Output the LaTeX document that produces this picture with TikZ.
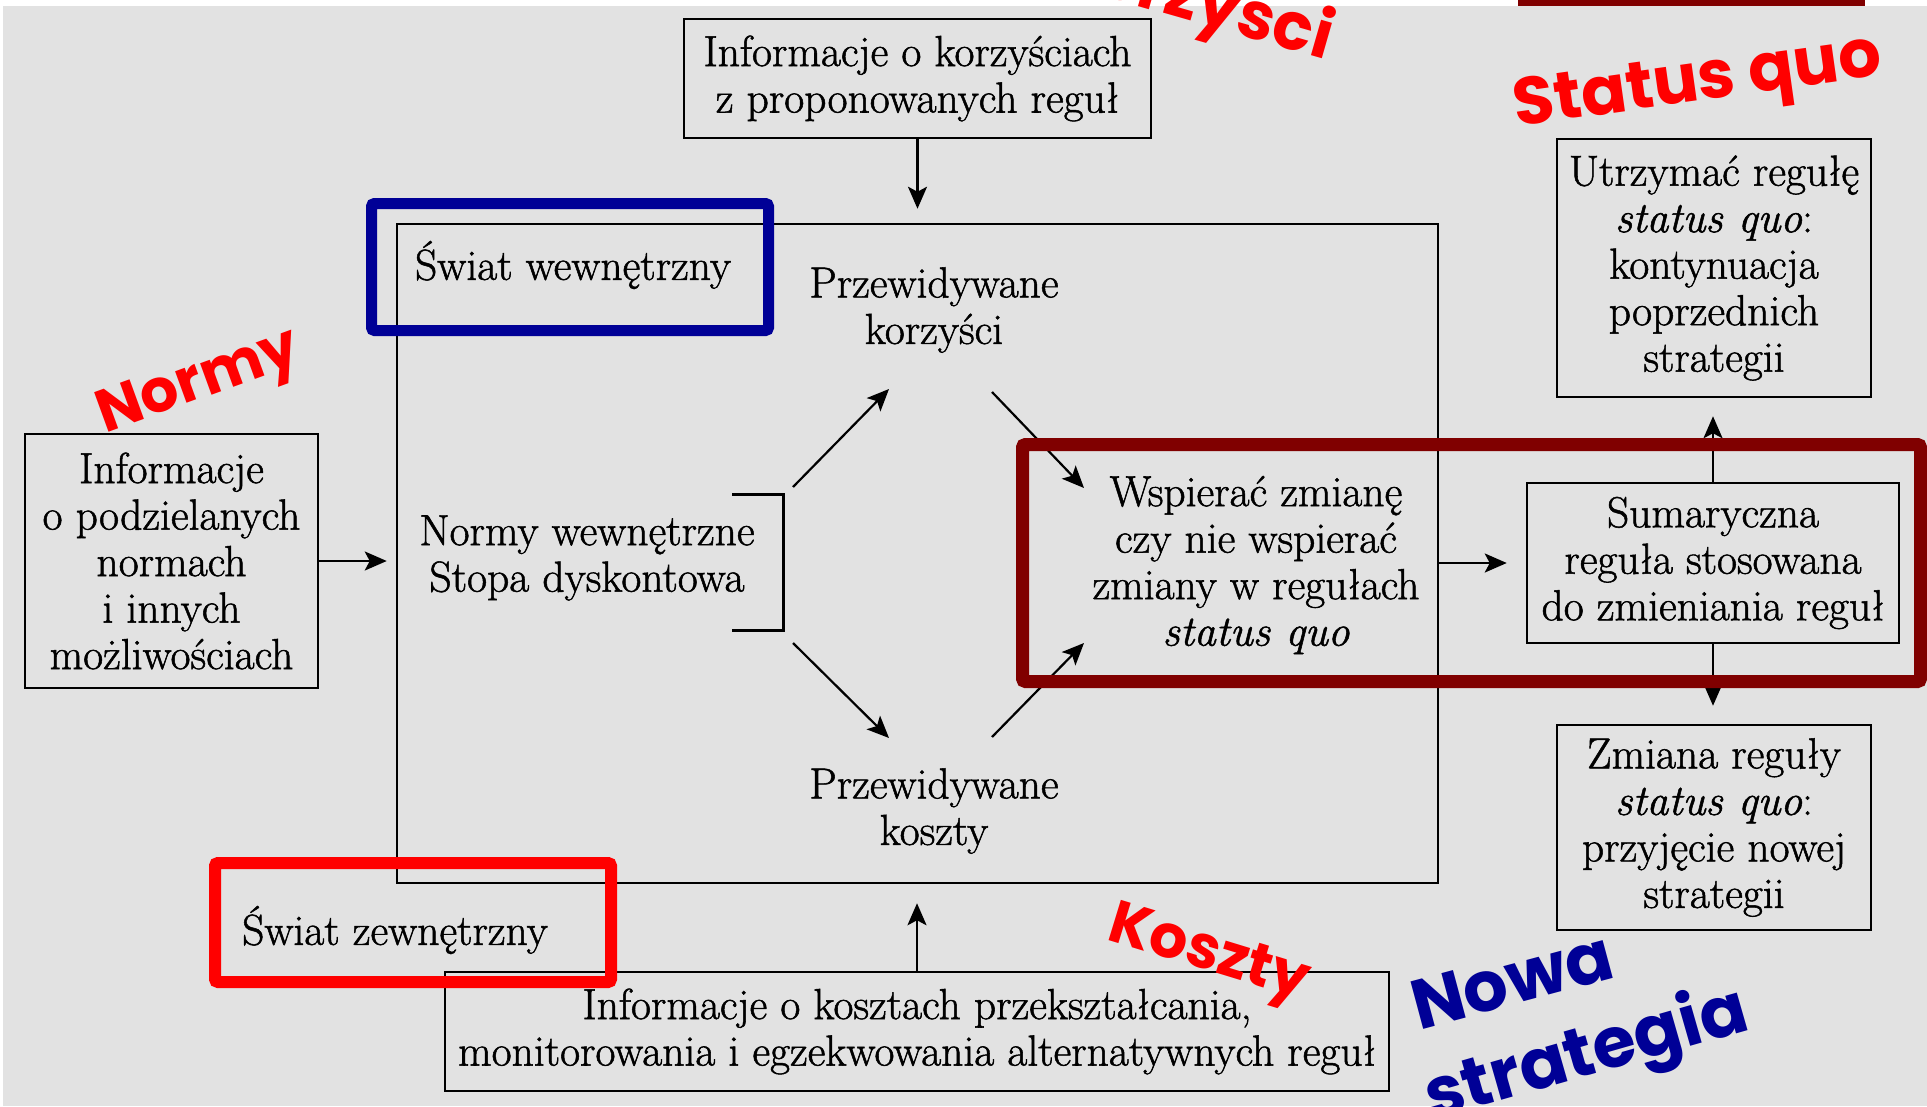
\documentclass[tikz,border=0pt]{standalone}
\usepackage{fontspec}
\setmainfont{Latin Modern Roman}[FakeBold=1.2]
\newfontfamily\annfont{Poppins}
\usetikzlibrary{arrows.meta}
\definecolor{bgc}{RGB}{226,226,226}
\definecolor{hlblue}{RGB}{0,0,150}
\definecolor{hlred}{RGB}{255,0,0}
\definecolor{hldark}{RGB}{128,0,0}
\newcommand\mytxt{\fontsize{43.5}{46.5}\selectfont}
\tikzset{
  box/.style={draw=black, line width=2.5pt, inner sep=0pt, align=center, font=\mytxt},
  txt/.style={inner sep=0pt, align=center, font=\mytxt},
  arr/.style={line width=2.5pt, -{Stealth[length=22pt,width=19pt,inset=5pt]}},
  hlbox/.style={draw=#1, rounded corners=3pt, inner sep=0pt},
  ann/.style={inner sep=0pt, font=\annfont\bfseries\fontsize{#1}{#1}\selectfont},
}
\begin{document}
\begin{tikzpicture}[x=1pt,y=-1pt]
\useasboundingbox (0,0) rectangle (1927,1106);
\fill[white] (0,0) rectangle (1927,1106);
\fill[bgc] (3,6) rectangle (1927,1106);
\fill[hldark] (1518,0) rectangle (1865,5.5);

% main boxes
\node[box, minimum width=467pt, minimum height=119pt] (topbox) at (917.5,78.5) {Informacje o korzyściach\\z proponowanych reguł};
\node[draw, line width=2.5pt, inner sep=0pt, minimum width=1041pt, minimum height=659pt] (inner) at (917.5,553.5) {};
\node[box, minimum width=293pt, minimum height=254pt] (leftbox) at (171.5,561) {Informacje\\o podzielanych\\normach\\i innych\\możliwościach};
\node[box, minimum width=944pt, minimum height=119pt] (botbox) at (917,1031.5) {Informacje o kosztach przekształcania,\\monitorowania i egzekwowania alternatywnych reguł};
\node[box, minimum width=372pt, minimum height=160pt] (sumbox) at (1713,563) {Sumaryczna\\reguła stosowana\\do zmieniania reguł};
\node[box, minimum width=314pt, minimum height=258pt] (utrbox) at (1714,268) {Utrzymać regułę\\\textit{status quo}:\\kontynuacja\\poprzednich\\strategii};
\node[box, minimum width=314pt, minimum height=205pt] (zmbox) at (1714,827.5) {Zmiana reguły\\\textit{status quo}:\\przyjęcie nowej\\strategii};

% inner texts
\node[txt] (swiatw) at (573,265) {Świat wewnętrzny};
\node[txt] (korz) at (934,310) {Przewidywane\\korzyści};
\node[txt] (normy) at (587,558) {Normy wewnętrzne\\Stopa dyskontowa};
\node[txt] (koszt) at (934,811) {Przewidywane\\koszty};
\node[txt] (wsp) at (1256,565) {Wspierać zmianę\\czy nie wspierać\\zmiany w regułach\\\textit{status quo}};
\node[txt] (swiatz) at (395,930) {Świat zewnętrzny};

% bracket
\coordinate (b1) at (732,494);
\coordinate (b2) at (783,494);
\coordinate (b3) at (783,630);
\coordinate (b4) at (732,630);
\draw[line width=3pt] (b1) -- (b2) -- (b3) -- (b4);

% diagonal arrows
\coordinate (d1s) at (793,487);
\coordinate (d1e) at (889,389);
\coordinate (d2s) at (793,643);
\coordinate (d2e) at (889,738);
\coordinate (d3s) at (992,392);
\coordinate (d3e) at (1084,488);
\coordinate (d4s) at (992,737);
\coordinate (d4e) at (1084,643);
\draw[arr, line width=2.2pt] (d1s) -- (d1e);
\draw[arr, line width=2.2pt] (d2s) -- (d2e);
\draw[arr, line width=2.2pt] (d3s) -- (d3e);
\draw[arr, line width=2.2pt] (d4s) -- (d4e);

% straight arrows
\draw[arr, shorten >=14pt] (topbox.south) -- (topbox.south |- inner.north);
\draw[arr, shorten >=9pt] (leftbox.east) -- (leftbox.east -| inner.west);
\draw[arr, shorten >=19pt] (botbox.north) -- (botbox.north |- inner.south);
\draw[arr, shorten >=19pt] (inner.east |- sumbox.west) -- (sumbox.west);
\draw[arr, shorten >=18pt] (sumbox.north) -- (sumbox.north |- utrbox.south);
\draw[arr, shorten >=18pt] (sumbox.south) -- (sumbox.south |- zmbox.north);

% highlight frames
\node[hlbox=hlblue, line width=11pt, minimum width=397pt, minimum height=127pt] (hlw) at (570,267) {};
\node[hlbox=hlred, line width=12pt, minimum width=396pt, minimum height=119pt] (hlz) at (413,922.5) {};
\node[hlbox=hldark, line width=13pt, minimum width=898pt, minimum height=237pt] (hld) at (1471.5,563) {};

% annotations
\node[ann=60, text=hlred, rotate=20] (anNormy) at (200,385) {Normy};
\node[ann=67, text=hlred, rotate=8] (anSQ) at (1698,86) {Status quo};
\node[ann=66, text=hlred, rotate=-16, anchor=base east] (anKorz) at (1326,60) {Korzyści};
\node[ann=60, text=hlred, rotate=-17] (anKoszty) at (1208,957) {Koszty};
\node[ann=70, text=hlblue, rotate=15] (anNowa) at (1512,980) {Nowa};
\node[ann=70, text=hlblue, rotate=16] (anStrat) at (1587,1057) {strategia};
\end{tikzpicture}
\end{document}
